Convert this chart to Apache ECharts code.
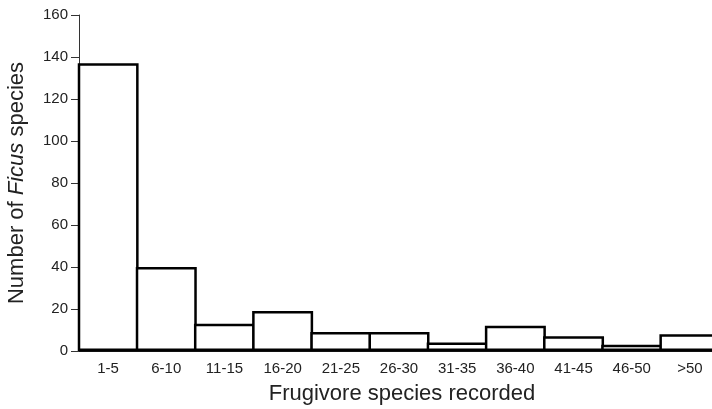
<!DOCTYPE html>
<html>
<head>
    <meta charset="utf-8">
    <title>Ficus frugivores</title>
    <script src="https://cdn.jsdelivr.net/npm/echarts@6/dist/echarts.min.js"></script>
</head>
<body style="margin:0;background:#fff;">
    <div id="main" style="width: 712px;height:409px;"></div>
    <script type="text/javascript">
        // frugivore species classes and number of Ficus species in each
        var categories = ['1-5', '6-10', '11-15', '16-20', '21-25', '26-30', '31-35', '36-40', '41-45', '46-50', '>50'];
        var ficusCounts = [137, 40, 13, 19, 9, 9, 4, 12, 7, 3, 8];
        var yTicks = { min: 0, max: 160, step: 20 };

        var myChart = echarts.init(document.getElementById('main'));

        var font = 'Liberation Sans, Arial, sans-serif';

        myChart.setOption({
            animation: false,
            grid: {
                left: 79,
                top: 15,
                width: 640,
                bottom: 58,
                outerBoundsMode: 'none'
            },
            xAxis: {
                type: 'category',
                data: categories,
                name: 'Frugivore species recorded',
                nameLocation: 'middle',
                nameGap: 32,
                nameTextStyle: { fontFamily: font, fontSize: 22, color: '#222', padding: [0, 0, 0, 6] },
                axisLine: { lineStyle: { color: '#111', width: 2 } },
                axisTick: { length: 6, lineStyle: { color: '#111', width: 1.5 } },
                axisLabel: { fontFamily: font, fontSize: 15, color: '#222', margin: 10 }
            },
            yAxis: {
                type: 'value',
                min: yTicks.min,
                max: yTicks.max,
                interval: yTicks.step,
                name: '{a|Number of }{b|Ficus}{a| species}',
                nameLocation: 'middle',
                nameGap: 51,
                nameRotate: 90,
                nameTextStyle: {
                    rich: {
                        a: { fontFamily: font, fontSize: 22, color: '#222' },
                        b: { fontFamily: font, fontSize: 22, color: '#222', fontStyle: 'italic' }
                    }
                },
                splitLine: { show: false },
                axisLine: { show: true, lineStyle: { color: '#333', width: 1 } },
                axisTick: { show: true, length: 8, lineStyle: { color: '#333' } },
                axisLabel: { fontFamily: font, fontSize: 15, color: '#222', margin: 11 }
            },
            series: [{
                type: 'bar',
                data: ficusCounts,
                barWidth: 61,
                itemStyle: {
                    color: '#fff',
                    borderColor: '#000',
                    borderWidth: 2.5
                }
            }]
        });
    </script>
</body>
</html>
